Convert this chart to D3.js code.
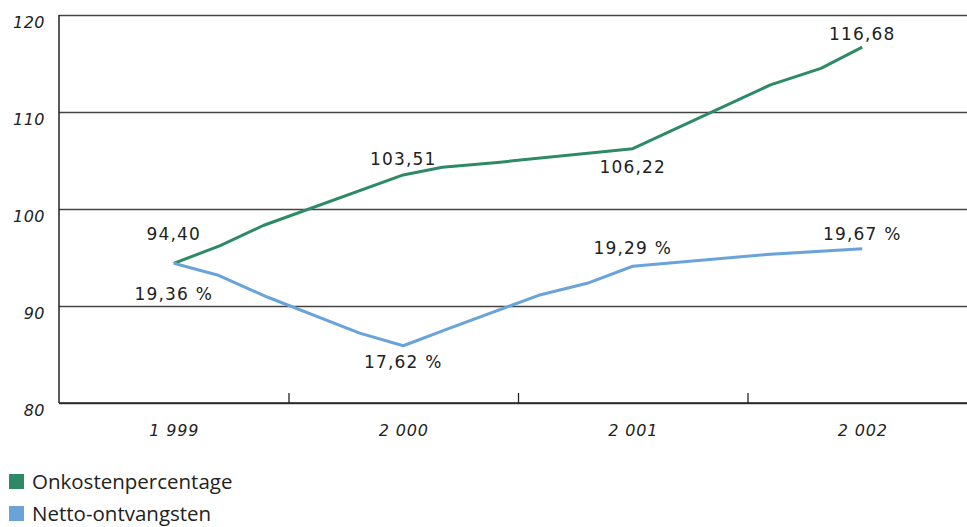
<!DOCTYPE html>
<html>
<head>
<meta charset="utf-8">
<script src="https://cdn.jsdelivr.net/npm/d3@7"></script>
<style>
  html, body { margin: 0; padding: 0; background: #fff; }
  svg { display: block; }
</style>
</head>
<body>
<svg id="chart" width="967" height="527"></svg>
<script>
// ---- data ----
const years = [1999, 2000, 2001, 2002];
const yearLabels = ["1 999", "2 000", "2 001", "2 002"];
const yTicks = [80, 90, 100, 110, 120];

// Onkostenpercentage (time position, value)
const onkostenT = [1999.00, 1999.20, 1999.39, 2000.00, 2000.17, 2000.41, 2001.00, 2001.60, 2001.82, 2002.00];
const onkostenV = [94.40, 96.2, 98.3, 103.51, 104.3, 104.8, 106.22, 112.8, 114.5, 116.68];
const onkostenLabels = ["94,40", "103,51", "106,22", "116,68"];

// Netto-ontvangsten (plotted on same axis)
const nettoT = [1999.00, 1999.19, 1999.41, 1999.81, 2000.00, 2000.20, 2000.59, 2000.81, 2001.00, 2001.58, 2002.00];
const nettoV = [94.4, 93.2, 90.9, 87.2, 85.9, 87.7, 91.1, 92.4, 94.1, 95.3, 95.9];
const nettoLabels = ["19,36 %", "17,62 %", "19,29 %", "19,67 %"];

const seriesNames = ["Onkostenpercentage", "Netto-ontvangsten"];
const seriesColors = ["#2e8a66", "#6aa3d9"];

// ---- layout ----
const svg = d3.select("#chart");
const mLeft = 59, mTop = 15, mBottom = 403, mRight = 967;

const x = d3.scaleLinear().domain([1998.5, 2002.5]).range([mLeft, mLeft + 4 * 229.5]);
const y = d3.scaleLinear().domain([80, 120]).range([mBottom, mTop]);

const numFont = "DejaVu Sans, Verdana, sans-serif";

// gridlines (y axis)
const yAxis = d3.axisLeft(y).tickValues(yTicks).tickSize(-(mRight - mLeft)).tickSizeOuter(0).tickPadding(14);
const gy = svg.append("g").attr("transform", `translate(${mLeft},0)`).call(yAxis);
gy.select(".domain").remove();
gy.selectAll(".tick line").attr("stroke", "#444").attr("stroke-width", 1.3);
gy.selectAll(".tick text")
  .attr("fill", "#222")
  .attr("dy", "0.75em")
  .attr("font-family", numFont)
  .attr("font-style", "italic")
  .attr("font-size", 16)
  .attr("letter-spacing", 0.5);

// left axis line
svg.append("line").attr("x1", mLeft).attr("x2", mLeft).attr("y1", y(120)).attr("y2", y(80))
  .attr("stroke", "#222").attr("stroke-width", 1.5);

// bottom axis: tick marks between categories
const xTickAxis = d3.axisBottom(x).tickValues([1999.5, 2000.5, 2001.5]).tickSize(-10).tickSizeOuter(0).tickFormat("");
const gx = svg.append("g").attr("transform", `translate(0,${mBottom})`).call(xTickAxis);
gx.select(".domain").attr("stroke", "#222").attr("stroke-width", 1.5)
  .attr("d", `M${mLeft},0H${mRight}`);
gx.selectAll(".tick line").attr("stroke", "#222").attr("stroke-width", 1.3);

// bottom axis labels at category centres
const xLabAxis = d3.axisBottom(x).tickValues(years).tickSize(0).tickPadding(22)
  .tickFormat((d, i) => yearLabels[i]);
const gxl = svg.append("g").attr("transform", `translate(0,${mBottom})`).call(xLabAxis);
gxl.select(".domain").remove();
gxl.selectAll(".tick text")
  .attr("fill", "#222")
  .attr("font-family", numFont)
  .attr("font-style", "italic")
  .attr("font-size", 16)
  .attr("letter-spacing", 0.8);

// lines
const line = d3.line().x(d => x(d[0])).y(d => y(d[1]));
const series = [
  d3.zip(onkostenT, onkostenV),
  d3.zip(nettoT, nettoV)
];
series.forEach((s, i) => {
  svg.append("path").datum(s)
    .attr("d", line)
    .attr("fill", "none")
    .attr("stroke", seriesColors[i])
    .attr("stroke-width", 3)
    .attr("stroke-linejoin", "round")
    .attr("stroke-linecap", "butt");
});

// value labels
function yearValue(T, V, yr) { return V[T.indexOf(yr)]; }
const labelStyle = sel => sel
  .attr("font-family", numFont)
  .attr("font-size", 17)
  .attr("letter-spacing", 1.2)
  .attr("fill", "#222")
  .attr("text-anchor", "middle");

// Onkosten labels: above except 2001 (below)
const onkOffsets = [-29, -16, 18, -13];
years.forEach((yr, i) => {
  svg.append("text")
    .attr("x", x(yr))
    .attr("y", y(yearValue(onkostenT, onkostenV, yr)) + onkOffsets[i])
    .attr("dy", "0.35em")
    .text(onkostenLabels[i])
    .call(labelStyle);
});
// Netto labels
const netOffsets = [31, 16, -18, -15];
years.forEach((yr, i) => {
  svg.append("text")
    .attr("x", x(yr))
    .attr("y", y(yearValue(nettoT, nettoV, yr)) + netOffsets[i])
    .attr("dy", "0.35em")
    .text(nettoLabels[i])
    .call(labelStyle);
});

// legend
const legend = svg.append("g");
seriesNames.forEach((name, i) => {
  const g = legend.append("g").attr("transform", `translate(9,${482 + i * 32})`);
  g.append("rect").attr("x", 0).attr("y", -8).attr("width", 15).attr("height", 15).attr("fill", seriesColors[i]);
  g.append("text").attr("x", 23).attr("y", 0).attr("dy", "0.35em")
    .attr("font-family", "'Open Sans', sans-serif")
    .attr("font-size", 20.5)
    .attr("fill", "#222")
    .text(name);
});
</script>
</body>
</html>
